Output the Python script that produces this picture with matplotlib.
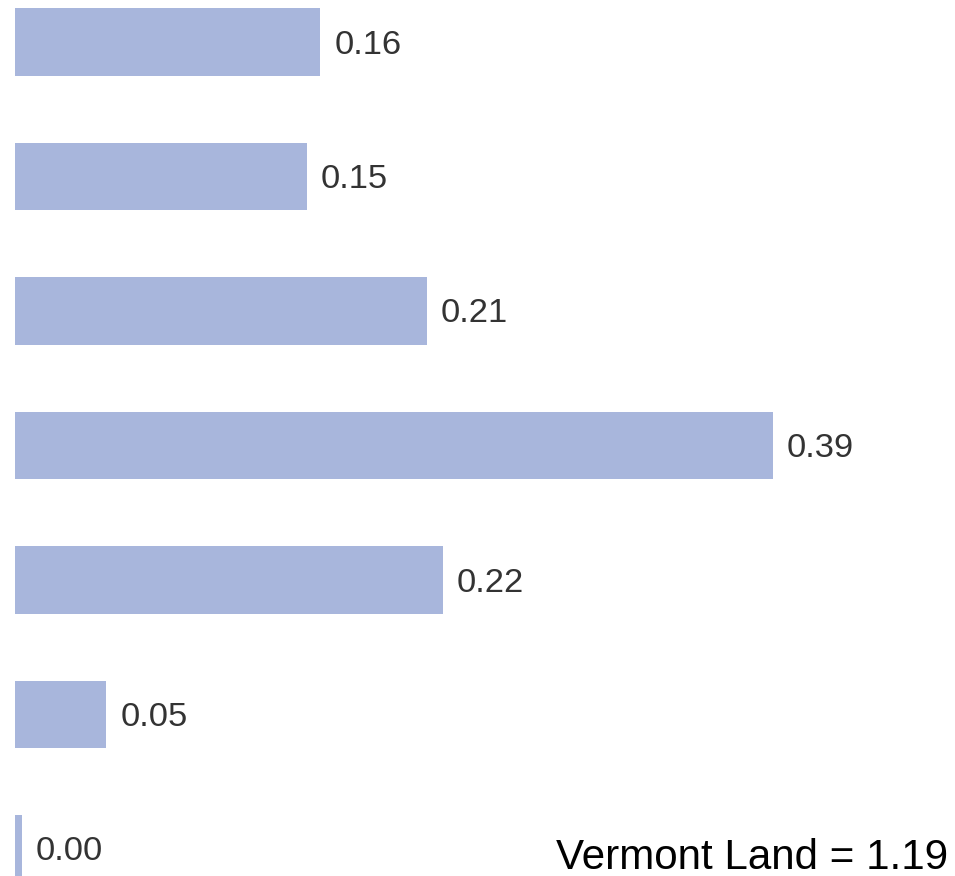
import matplotlib.pyplot as plt

# значения (сверху вниз)
values = [0.157, 0.150, 0.212, 0.390, 0.220, 0.047, 0.0035]
total_label = "Vermont Land = 1.19"

bar_color = '#a8b6dc'

fig = plt.figure(figsize=(9.55, 8.76), dpi=100)
ax = fig.add_axes([0, 0, 1, 1])

pos = list(range(len(values)))
ax.barh(pos, values, height=0.5, color=bar_color)

for p, v in zip(pos, values):
    ax.annotate(f"{v:.2f}", (v, p), xytext=(14, -3), textcoords='offset pixels',
                va='center', ha='left', fontsize=24.8, color='#333333',
                family='Liberation Sans')

ax.text(948 / 955, 7 / 876, total_label, transform=ax.transAxes,
        ha='right', va='baseline', fontsize=30.3, color='black',
        family='Liberation Sans')

ax.set_xlim(-15 / 1943.6, 940 / 1943.6)
ax.set_ylim((876 - 42) / 134.5, -42 / 134.5)
ax.axis('off')

plt.savefig('out.png', dpi=100)
